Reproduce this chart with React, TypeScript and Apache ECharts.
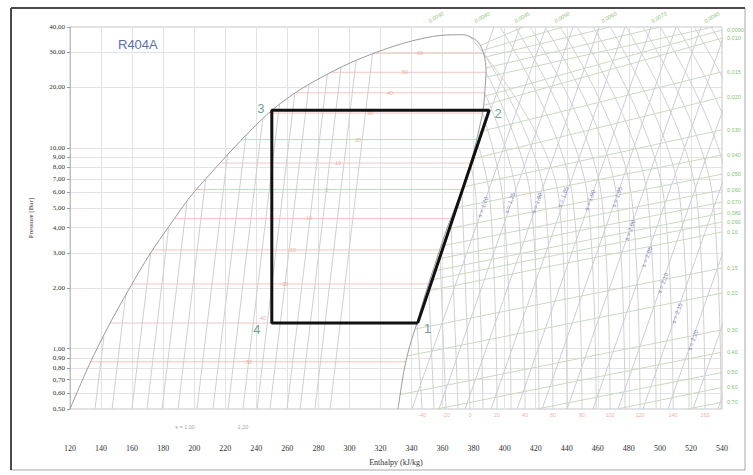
import React, { useEffect, useRef } from "react";
import * as echarts from "echarts";

// ---------- axes ----------
const enthalpyMin = 120;
const enthalpyMax = 540;
const enthalpyStep = 20;
const pressureMin = 0.5;
const pressureMax = 40;
const pressureTicks = [0.5, 0.6, 0.7, 0.8, 0.9, 1, 2, 3, 4, 5, 6, 7, 8, 9, 10, 20, 30, 40];

// ---------- saturation dome [h kJ/kg, p bar] ----------
const liquidLine = [
  [120, 0.5], [132.9, 0.847], [145.8, 1.34], [158.7, 2.02], [171.5, 2.96], [184.4, 4.13],
  [197.3, 5.69], [210.2, 7.4], [223.1, 9.53], [236.0, 12.13], [250.1, 15.4], [264.9, 18.76],
  [281.1, 22.28], [300.4, 26.47], [319.7, 30.38], [339.0, 33.9], [358.4, 36.3], [373.2, 36.6],
];
const vaporLine = [
  [373.2, 36.6], [382.8, 33.7], [386.7, 29.0], [388.0, 24.4], [387.3, 19.4], [386.1, 15.4],
  [384.1, 13.0], [380.3, 9.75], [375.1, 7.07], [368.7, 5.19], [362.9, 3.98], [356.4, 2.82],
  [348.7, 1.85], [343.5, 1.34], [339.0, 1.04], [335.2, 0.78], [331.3, 0.5],
];

// ---------- refrigeration cycle ----------
const cycleEnthalpy = [344, 390, 250, 250, 344];
const cyclePressure = [1.34, 15.4, 15.4, 1.34, 1.34];
const cycleNames = ["1", "2", "3", "4"];

// ---------- isentropes inside the dome: [h at 0.5 bar, h on liquid line, p on liquid line] ----------
const wetIsentropes = [
  [136.1, 141.9, 1.15], [147.1, 155.9, 1.85], [159.9, 172.0, 2.99], [169.6, 183.6, 4.03],
  [179.3, 195.4, 5.43], [189.6, 207.4, 6.99], [201.8, 221.5, 9.21], [212.1, 233.4, 11.58],
  [221.8, 244.2, 13.92], [231.4, 255.0, 16.44], [240.5, 264.8, 18.76], [248.8, 273.9, 20.6],
  [259.8, 285.8, 23.2], [268.2, 294.6, 25.1], [277.8, 304.3, 27.2], [287.5, 314.9, 29.4],
];
const wetIsentropeLabelText = ["s = 1,00", "1,20"];
const wetIsentropeLabelH = [194.1, 231.4];

// ---------- isotherms inside the dome ----------
const satTemps = [-50, -40, -30, -20, -10, 0, 10, 20, 30, 40, 50, 60];
const satPressure = [0.86, 1.34, 2.1, 3.1, 4.45, 6.2, 8.4, 11.0, 14.9, 18.8, 23.8, 29.6];
const satLiquidH = [133.3, 145.8, 160.0, 173.3, 187.4, 201.5, 216.7, 230.8, 248.2, 265.0, 288.5, 316.0];
const satVaporH = [336.5, 343.5, 351, 358.2, 365.3, 372.4, 377.9, 381.9, 385.7, 387.2, 387.9, 386.4];
const satLabelH = [234.7, 243.7, 257.9, 263, 273.3, 285.6, 292.6, 305.5, 313.3, 326.1, 335.8, 345.5];
const satLabelP = [0.86, 1.42, 2.1, 3.1, 4.45, 6.2, 8.4, 11.0, 14.9, 18.8, 23.8, 29.6];

// ---------- superheated isotherms ----------
const superheatLines = [
  [[343.5, 1.34], [346.8, 0.5]],
  [[351.0, 2.1], [354.5, 0.5]],
  [[358.2, 3.1], [362.2, 0.5]],
  [[365.3, 4.45], [370.0, 0.5]],
  [[372.4, 6.2], [377.7, 0.5]],
  [[377.9, 8.4], [381.6, 5.49], [386.1, 0.5]],
  [[381.9, 11.0], [390.6, 5.49], [395.1, 0.5]],
  [[385.7, 14.9], [398.9, 5.49], [404.1, 0.5]],
  [[387.2, 18.8], [408.0, 5.49], [413.1, 0.5]],
  [[387.9, 23.8], [417.0, 5.49], [422.1, 0.5]],
  [[386.4, 29.6], [426.0, 5.49], [431.1, 0.5]],
  [[378.0, 35.5], [435.0, 5.49], [440.2, 0.5]],
  [[397.0, 40], [444.0, 5.49], [449.8, 0.5]],
  [[406.7, 40], [453.7, 5.49], [458.9, 0.5]],
  [[416.3, 40], [462.7, 5.49], [467.9, 0.5]],
  [[426.0, 40], [472.4, 5.49], [477.5, 0.5]],
  [[435.7, 40], [482.0, 5.49], [487.2, 0.5]],
  [[446.6, 40], [492.3, 5.49], [497.5, 0.5]],
  [[456.9, 40], [502.7, 5.49], [508.5, 0.5]],
  [[467.9, 40], [513.0, 5.49], [518.8, 0.5]],
  [[478.2, 40], [523.9, 5.49], [529.1, 0.5]],
  [[489.1, 40], [534.2, 5.49], [539.4, 0.5]],
  [[500.1, 40], [545.2, 5.49], [549.7, 0.5]],
  [[511.0, 40], [556.0, 5.49], [560.0, 0.5]],
  [[522.0, 40], [567.0, 5.49], [571.0, 0.5]],
  [[533.0, 40], [578.0, 5.49], [582.0, 0.5]],
];
const bottomTempLabels = [-40, -20, 0, 20, 40, 60, 80, 100, 120, 140, 160];
const bottomTempH = [346.8, 362.2, 377.7, 395.1, 413.1, 431.1, 449.8, 467.9, 487.2, 508.5, 529.1];

// ---------- superheated isentropes [h start, p start, h end, p end] ----------
const dryIsentropes = [
  [386.7, 29.0, 393.1, 40], [348.0, 1.74, 409.9, 40], [340.3, 0.5, 426.6, 40],
  [357.7, 0.5, 444.0, 40], [374.5, 0.5, 460.8, 40], [391.2, 0.5, 477.5, 40],
  [408.0, 0.5, 494.3, 40], [424.1, 0.5, 510.4, 40], [440.2, 0.5, 526.5, 40],
  [456.9, 0.5, 543.2, 40], [473.0, 0.5, 559.3, 40], [489.1, 0.5, 575.5, 40],
  [505.2, 0.5, 591.6, 40], [521.3, 0.5, 607.7, 40], [537.4, 0.5, 623.8, 40],
];
const isentropeLabelText = ["s = 1,70", "s = 1,75", "s = 1,80", "s = 1,85", "s = 1,90", "s = 1,95", "s = 2,00", "s = 2,05", "s = 2,10", "s = 2,15", "s = 2,20"];
const isentropeLabelH = [386.1, 403.4, 420.8, 437.6, 455.0, 472.4, 480.8, 491.7, 502.0, 511.0, 521.3];
const isentropeLabelP = [5.07, 5.31, 5.31, 5.69, 5.49, 5.69, 3.89, 2.86, 2.12, 1.5, 1.1];

// ---------- isochores [h start, p start, h end, p end] ----------
const isochoreText = ["0,70", "0,60", "0,50", "0,40", "0,30", "0,20", "0,15", "0,10", "0,090", "0,080", "0,070", "0,060", "0,050", "0,040", "0,030", "0,020", "0,015", "0,010", "0,0090"];
const isochores = [
  [517.5, 0.5, 540, 0.54], [472.4, 0.5, 540, 0.64], [420.8, 0.5, 540, 0.76], [356.4, 0.5, 540, 0.96],
  [332.6, 0.59, 540, 1.24], [337.7, 0.92, 540, 1.89], [342.2, 1.25, 540, 2.52], [349.3, 1.93, 540, 3.81],
  [351.9, 2.19, 540, 4.27], [353.8, 2.43, 540, 4.73], [356.4, 2.79, 540, 5.37], [359.0, 3.24, 540, 6.17],
  [362.9, 3.94, 540, 7.4], [368.0, 5.01, 540, 9.21], [373.2, 6.38, 540, 12.3], [379.0, 8.8, 540, 17.9],
  [383.5, 12.0, 540, 23.9], [386.7, 16.3, 540, 35.2], [387.3, 18.1, 540, 38.6],
];
const topIsochoreText = ["0,0045", "0,0050", "0,0060", "0,0070", "0,0080"];
const topIsochores = [
  [384.8, 32.5, 411.8, 40], [386.1, 30.7, 437.6, 40], [387.3, 28.3, 467.9, 40],
  [388.0, 25.0, 500.1, 40], [388.0, 22.5, 534.2, 40],
];
const extraTopText = ["0,0030", "0,0040"];
const extraTopH = [356.4, 386.1];

const FONT_SERIF = "'Liberation Serif', 'DejaVu Serif', serif";
const FONT_SANS = "'Liberation Sans', 'DejaVu Sans', sans-serif";

function lineSeries(data: number[][], color: string, width = 1, z = 2, smooth: boolean | number = false) {
  return {
    type: "line",
    data,
    symbol: "none",
    showSymbol: false,
    silent: true,
    smooth,
    clip: true,
    z,
    lineStyle: { color, width },
  };
}

function textSeries(items: { value: number[]; text: string; offset?: number[] }[], label: any, z = 6) {
  return {
    type: "scatter",
    symbolSize: 0,
    silent: true,
    clip: false,
    z,
    data: items.map((it) => ({
      value: it.value,
      label: it.offset ? { formatter: it.text, offset: it.offset } : { formatter: it.text },
    })),
    label: { show: true, position: "inside", ...label },
  };
}

export default function App() {
  const ref = useRef<HTMLDivElement>(null);

  useEffect(() => {
    if (!ref.current) return;
    const chart = echarts.init(ref.current, undefined, { renderer: "svg" });

    const series: any[] = [];

    wetIsentropes.forEach((l) => series.push(lineSeries([[l[0], pressureMin], [l[1], l[2]]], "#cfcfcf")));
    satPressure.forEach((p, i) => series.push(lineSeries([[satLiquidH[i], p], [satVaporH[i], p]], "#f2c6c0")));
    superheatLines.forEach((l) => series.push(lineSeries(l, "#d4cfcf", 1, 2, 0.4)));
    dryIsentropes.forEach((l) => series.push(lineSeries([[l[0], l[1]], [l[2], l[3]]], "#cbcddc")));
    isochores.forEach((l) => series.push(lineSeries([[l[0], l[1]], [l[2], l[3]]], "#ccd8c2")));
    topIsochores.forEach((l) => series.push(lineSeries([[l[0], l[1]], [l[2], l[3]]], "#ccd8c2")));
    series.push(lineSeries([...liquidLine, ...vaporLine.slice(1)], "#9a9a9a", 1, 3, 0.3));
    series.push(lineSeries(cycleEnthalpy.map((h, i) => [h, cyclePressure[i]]), "#111111", 3, 8));

    const cycleOffsets = [[10, 5], [9, 3], [-11, -2], [-15, 6]];
    series.push(
      textSeries(
        cycleNames.map((n, i) => ({ value: [cycleEnthalpy[i], cyclePressure[i]], text: n, offset: cycleOffsets[i] })),
        { color: "#3f8a72", fontSize: 13, fontFamily: FONT_SANS },
        9
      )
    );
    series.push(
      textSeries(
        satTemps.map((t, i) => ({ value: [satLabelH[i], satLabelP[i]], text: String(t) })),
        { color: "#e49a8a", fontSize: 5.5, fontFamily: FONT_SANS }
      )
    );
    series.push(
      textSeries(
        bottomTempLabels.map((t, i) => ({ value: [bottomTempH[i], pressureMin], text: String(t) })),
        { color: "#e49a8a", fontSize: 5.5, fontFamily: FONT_SANS, offset: [0, 6] }
      )
    );
    series.push(
      textSeries(
        wetIsentropeLabelText.map((t, i) => ({ value: [wetIsentropeLabelH[i], pressureMin], text: t })),
        { color: "#888", fontSize: 5.5, fontFamily: FONT_SANS, offset: [0, 18] }
      )
    );
    series.push(
      textSeries(
        isentropeLabelText.map((t, i) => ({ value: [isentropeLabelH[i], isentropeLabelP[i]], text: t })),
        { color: "#6666b8", fontSize: 6, fontFamily: FONT_SANS, rotate: 70 }
      )
    );
    series.push(
      textSeries(
        isochoreText.map((t, i) => ({ value: [isochores[i][2], isochores[i][3]], text: t })),
        { color: "#6aa84f", fontSize: 5.5, fontFamily: FONT_SANS, position: "right", distance: 5 }
      )
    );
    series.push(
      textSeries(
        [
          ...extraTopText.map((t, i) => ({ value: [extraTopH[i], pressureMax], text: t })),
          ...topIsochoreText.map((t, i) => ({ value: [topIsochores[i][2], topIsochores[i][3]], text: t })),
        ],
        { color: "#6aa84f", fontSize: 5.5, fontFamily: FONT_SANS, rotate: 30, offset: [4, -9] }
      )
    );

    chart.setOption({
      animation: false,
      backgroundColor: "#ffffff",
      grid: { left: 70, right: 31, top: 27, bottom: 66, show: true, borderColor: "#c4c4c4", borderWidth: 1 },
      xAxis: {
        type: "value",
        min: enthalpyMin,
        max: enthalpyMax,
        interval: enthalpyStep,
        name: "Enthalpy (kJ/kg)",
        nameLocation: "middle",
        nameGap: 49,
        nameTextStyle: { fontFamily: FONT_SERIF, fontSize: 8, color: "#333333" },
        axisLine: { show: false },
        axisTick: { show: false },
        axisLabel: { margin: 35, fontSize: 8, fontFamily: FONT_SERIF, color: "#333333" },
        splitLine: { show: true, lineStyle: { color: "#e3e3e3", width: 1 } },
      },
      yAxis: {
        type: "log",
        logBase: 10,
        min: pressureMin,
        max: pressureMax,
        name: "Pressure [Bar]",
        nameLocation: "middle",
        nameGap: 36,
        nameRotate: 90,
        nameTextStyle: { fontFamily: FONT_SERIF, fontSize: 7, color: "#333333" },
        axisLine: { show: true, lineStyle: { color: "#bdbdbd" } },
        axisTick: { show: true, length: 3, customValues: pressureTicks, lineStyle: { color: "#999" } },
        axisLabel: {
          customValues: pressureTicks,
          formatter: (v: number) => v.toFixed(2).replace(".", ","),
          fontSize: 7,
          fontFamily: FONT_SERIF,
          color: "#333333",
          margin: 5,
        },
        splitLine: { show: true, lineStyle: { color: "#e3e3e3", width: 1 } },
      },
      graphic: [
        { type: "rect", shape: { x: 11, y: 8, width: 734, height: 462 }, style: { fill: "none", stroke: "#a8a8a8", lineWidth: 1 }, z: 100 },
        { type: "line", shape: { x1: 11, y1: 8, x2: 745, y2: 8 }, style: { stroke: "#4a4a4a", lineWidth: 2 }, z: 101 },
        { type: "line", shape: { x1: 11, y1: 8, x2: 11, y2: 470 }, style: { stroke: "#4a4a4a", lineWidth: 2 }, z: 101 },
        {
          type: "text",
          left: 118,
          top: 38,
          style: { text: "R404A", fill: "#5b6ea8", fontSize: 13, fontFamily: FONT_SANS },
          z: 100,
        },
      ],
      series,
    });

    return () => chart.dispose();
  }, []);

  return <div ref={ref} style={{ position: "fixed", left: 0, top: 0, width: 753, height: 475, background: "#fff" }} />;
}
